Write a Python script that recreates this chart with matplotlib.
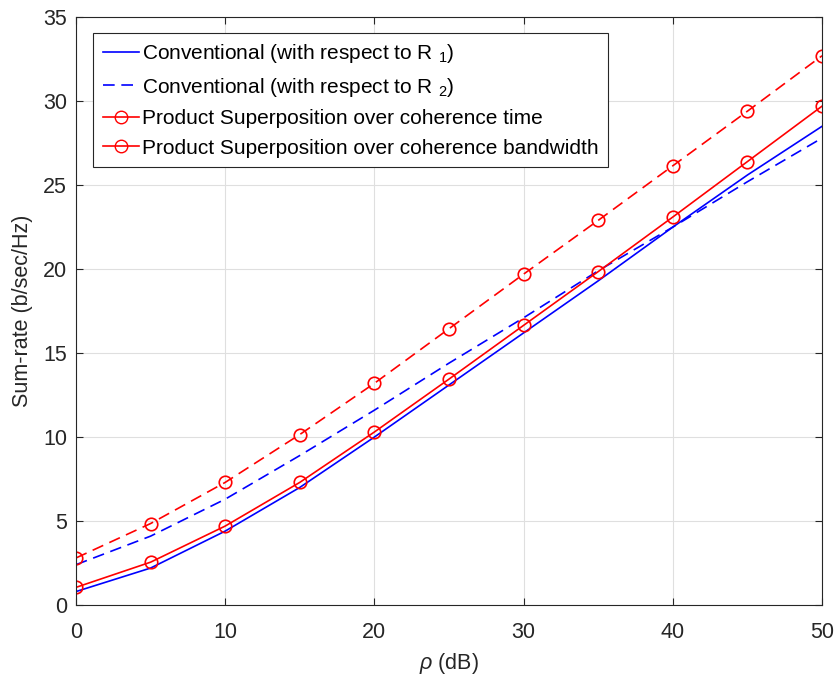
import numpy as np
import matplotlib
matplotlib.use("Agg")
import matplotlib.pyplot as plt
from matplotlib.lines import Line2D

plt.rcParams['font.family'] = ['Liberation Sans', 'DejaVu Sans']
plt.rcParams['mathtext.fontset'] = 'custom'
plt.rcParams['mathtext.rm'] = 'Liberation Sans'
plt.rcParams['mathtext.it'] = 'Liberation Sans:italic'

# SNR in dB
rho = [0, 5, 10, 15, 20, 25, 30, 35, 40, 45, 50]

# sum-rate curves (b/sec/Hz)
conv_r1 = [0.8, 2.2, 4.4, 7.0, 10.0, 13.1, 16.2, 19.3, 22.5, 25.6, 28.5]
conv_r2 = [2.4, 4.1, 6.3, 8.9, 11.6, 14.4, 17.1, 19.9, 22.5, 25.2, 27.8]
ps_time = [1.05, 2.55, 4.7, 7.3, 10.3, 13.45, 16.65, 19.85, 23.1, 26.4, 29.7]
ps_bw = [2.8, 4.85, 7.3, 10.15, 13.2, 16.45, 19.7, 22.9, 26.15, 29.4, 32.7]

labels = ["Conventional (with respect to R $_1$)",
          "Conventional (with respect to R $_2$)",
          "Product Superposition over coherence time",
          "Product Superposition over coherence bandwidth"]

fig = plt.figure(figsize=(8.36, 6.82), dpi=100)
ax = fig.add_axes([0.0909, 0.1129, 0.8924, 0.862])

ax.plot(rho, conv_r1, '-', color='blue', lw=1.2)
ax.plot(rho, conv_r2, '--', color='blue', lw=1.2, dashes=(7, 4))
ax.plot(rho, ps_time, '-o', color='red', lw=1.2, mfc='none', ms=9, mew=1.2)
ax.plot(rho, ps_bw, '--o', color='red', lw=1.2, mfc='none', ms=9, mew=1.2, dashes=(7, 4))

ax.set_xlim(0, 50)
ax.set_ylim(0, 35)
ax.set_xticks(np.arange(0, 51, 10))
ax.set_yticks(np.arange(0, 36, 5))
ax.grid(True, color='#dfdfdf', lw=0.8)
ax.set_axisbelow(True)
ax.tick_params(direction='in', top=True, right=True, labelsize=15.5,
               colors='#262626', length=5)
ax.tick_params(axis='x', pad=12)
ax.tick_params(axis='y', pad=6.5)
for s in ax.spines.values():
    s.set_color('#262626')
    s.set_linewidth(0.8)

ax.set_xlabel(r"$\it{\rho}$ (dB)", fontsize=15.5, color='#262626', labelpad=6)
ax.set_ylabel("Sum-rate (b/sec/Hz)", fontsize=15.5, color='#262626', labelpad=7)

handles = [Line2D([], [], color='blue', lw=1.2),
           Line2D([], [], color='blue', lw=1.2, ls='--', dashes=(7, 4)),
           Line2D([], [], color='red', lw=1.2, marker='o', mfc='none', ms=9),
           Line2D([], [], color='red', lw=1.2, marker='o', mfc='none', ms=9)]
leg = ax.legend(handles, labels, loc='upper left', bbox_to_anchor=(0.023, 0.973),
                fontsize=15, fancybox=False, edgecolor='#262626', framealpha=1,
                handlelength=1.75, handletextpad=0.15, borderpad=0.45, labelspacing=0.5,
                borderaxespad=0)
leg.get_frame().set_linewidth(0.8)

fig.savefig("out.png", dpi=100)
